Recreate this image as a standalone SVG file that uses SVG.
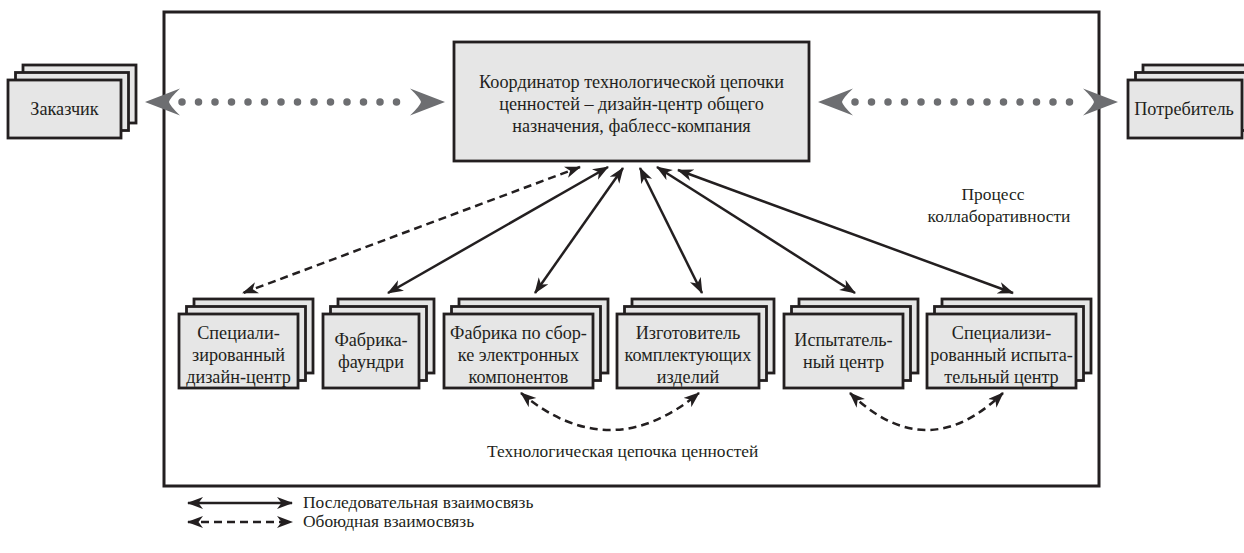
<svg xmlns="http://www.w3.org/2000/svg" xmlns:xlink="http://www.w3.org/1999/xlink" width="1244" height="553" viewBox="0 0 1244 553" font-family="Liberation Serif, DejaVu Serif, serif">
<style>
.box{fill:#e6e6e6;stroke:#231f20;stroke-width:2.8}
.frame{fill:none;stroke:#231f20;stroke-width:3}
text{font-family:"Liberation Serif",serif}
.t{font-size:18.2px;fill:#231f20;text-anchor:middle}
.ts{font-size:17.4px;fill:#231f20}
.solid{fill:none;stroke:#231f20;stroke-width:2.5;marker-start:url(#ah);marker-end:url(#ah)}
.dash{fill:none;stroke:#231f20;stroke-width:2.5;stroke-dasharray:8 5;marker-start:url(#ah);marker-end:url(#ah)}
.dots{fill:none;stroke:#6d6e71;stroke-width:7.5;stroke-linecap:round;stroke-dasharray:0 16.5}
.gh{fill:#6d6e71}
</style>
<defs>
<marker id="ah" markerUnits="userSpaceOnUse" markerWidth="17" markerHeight="13" refX="15" refY="6" orient="auto-start-reverse">
<path d="M0,0 L16,6 L0,12 L4.5,6 Z" fill="#231f20"/>
</marker>
<path id="grayHead" d="M0,0 L-35,-13.5 Q-25,-4 -24,0 Q-25,4 -35,13.5 Z"/>
</defs>

<rect class="frame" x="164" y="12" width="935" height="474"/>

<g id="zakazchik">
<rect class="box" x="23" y="65" width="113" height="58"/>
<rect class="box" x="15.5" y="72.5" width="113" height="58"/>
<rect class="box" x="8" y="80" width="113" height="58"/>
<text class="t" x="64.5" y="115">Заказчик</text>
</g>

<g id="potrebitel">
<rect class="box" x="1143" y="65" width="114" height="58"/>
<rect class="box" x="1135.5" y="72.5" width="114" height="58"/>
<rect class="box" x="1128" y="80" width="114" height="58"/>
<text class="t" x="1184" y="115">Потребитель</text>
</g>

<g id="coordinator">
<rect class="box" x="454" y="42" width="355" height="119"/>
<text class="t" x="631.5" y="88">Координатор технологической цепочки</text>
<text class="t" x="631.5" y="110">ценностей – дизайн-центр общего</text>
<text class="t" x="631.5" y="132">назначения, фаблесс-компания</text>
</g>

<g id="spec-design">
<rect class="box" x="194" y="299" width="119" height="74"/>
<rect class="box" x="186.5" y="306.5" width="119" height="74"/>
<rect class="box" x="179" y="314" width="119" height="74"/>
<text class="t" x="238.5" y="339">Специали-</text>
<text class="t" x="238.5" y="361">зированный</text>
<text class="t" x="238.5" y="383">дизайн-центр</text>
</g>

<g id="foundry">
<rect class="box" x="338" y="299" width="96" height="74"/>
<rect class="box" x="330.5" y="306.5" width="96" height="74"/>
<rect class="box" x="323" y="314" width="96" height="74"/>
<text class="t" x="371" y="346">Фабрика-</text>
<text class="t" x="371" y="368">фаундри</text>
</g>

<g id="assembly">
<rect class="box" x="459" y="299" width="149" height="74"/>
<rect class="box" x="451.5" y="306.5" width="149" height="74"/>
<rect class="box" x="444" y="314" width="149" height="74"/>
<text class="t" x="518.5" y="339">Фабрика по сбор-</text>
<text class="t" x="518.5" y="361">ке электронных</text>
<text class="t" x="518.5" y="383">компонентов</text>
</g>

<g id="components">
<rect class="box" x="632" y="299" width="142" height="74"/>
<rect class="box" x="624.5" y="306.5" width="142" height="74"/>
<rect class="box" x="617" y="314" width="142" height="74"/>
<text class="t" x="688" y="339">Изготовитель</text>
<text class="t" x="688" y="361">комплектующих</text>
<text class="t" x="688" y="383">изделий</text>
</g>

<g id="test-center">
<rect class="box" x="799" y="299" width="119" height="74"/>
<rect class="box" x="791.5" y="306.5" width="119" height="74"/>
<rect class="box" x="784" y="314" width="119" height="74"/>
<text class="t" x="843.5" y="346">Испытатель-</text>
<text class="t" x="843.5" y="368">ный центр</text>
</g>

<g id="spec-test">
<rect class="box" x="942" y="299" width="149" height="74"/>
<rect class="box" x="934.5" y="306.5" width="149" height="74"/>
<rect class="box" x="927" y="314" width="149" height="74"/>
<text class="t" x="1001.5" y="339">Специализи-</text>
<text class="t" x="1001.5" y="361">рованный испыта-</text>
<text class="t" x="1001.5" y="383">тельный центр</text>
</g>

<g id="connectors">
<path class="dots" d="M182,102 H413"/>
<use href="#grayHead" class="gh" transform="translate(145,102) rotate(180)"/>
<use href="#grayHead" class="gh" transform="translate(445,102)"/>
<path class="dots" d="M855,102 H1085"/>
<use href="#grayHead" class="gh" transform="translate(818,102) rotate(180)"/>
<use href="#grayHead" class="gh" transform="translate(1118,102)"/>

<path class="dash" d="M580,167 L243,293"/>
<path class="solid" d="M608,167 L388,293"/>
<path class="solid" d="M623,168 L535,293"/>
<path class="solid" d="M640,168 L702,293"/>
<path class="solid" d="M657,167 L855,293"/>
<path class="solid" d="M678,170 L1013,293"/>

<path class="dash" d="M521,393 Q610,467 699,393"/>
<path class="dash" d="M850,393 Q926.5,467 1003,393"/>
</g>

<g id="labels">
<text class="ts" x="993" y="200" text-anchor="middle">Процесс</text>
<text class="ts" x="999" y="222" text-anchor="middle">коллаборативности</text>
<text class="ts" x="487" y="457">Технологическая цепочка ценностей</text>
</g>

<g id="legend">
<path class="solid" d="M188,503 H292"/>
<path class="dash" d="M188,522 H292"/>
<text class="ts" x="303" y="508">Последовательная взаимосвязь</text>
<text class="ts" x="303" y="527">Обоюдная взаимосвязь</text>
</g>
</svg>
